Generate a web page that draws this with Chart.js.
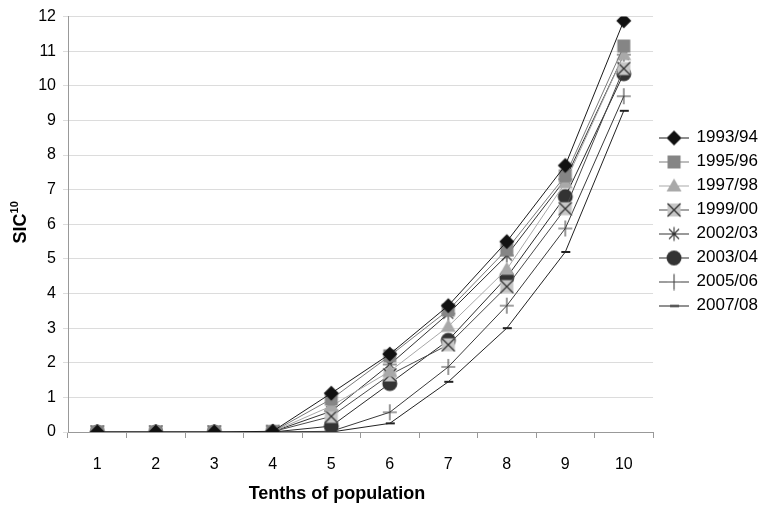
<!DOCTYPE html>
<html>
<head>
<meta charset="utf-8">
<script src="https://cdn.jsdelivr.net/npm/chart.js@4/dist/chart.umd.min.js"></script>
<style>
  html, body { margin: 0; padding: 0; background: #fff; }
  #wrap { width: 760px; height: 508px; }
</style>
</head>
<body>
<div id="wrap"><canvas id="c" width="760" height="508"></canvas></div>
<script>
// data
let tenths = ['1', '2', '3', '4', '5', '6', '7', '8', '9', '10'];
let years = ['1993/94', '1995/96', '1997/98', '1999/00', '2002/03', '2003/04', '2005/06', '2007/08'];

let sic_9394 = [0, 0, 0, 0.02, 1.12, 2.25, 3.65, 5.5, 7.7, 11.88];
let sic_9596 = [0, 0, 0, 0.01, 0.95, 2.2, 3.52, 5.27, 7.4, 11.15];
let sic_9798 = [0, 0, 0, 0.01, 0.75, 1.75, 3.05, 4.7, 7.2, 10.9];
let sic_9900 = [0, 0, 0, 0.01, 0.45, 1.65, 2.52, 4.2, 6.45, 10.5];
let sic_0203 = [0, 0, 0, 0.01, 0.6, 1.95, 3.42, 5.1, 7.3, 10.9];
let sic_0304 = [0, 0, 0, 0, 0.17, 1.4, 2.65, 4.47, 6.8, 10.35];
let sic_0506 = [0, 0, 0, 0, 0.02, 0.57, 1.88, 3.65, 5.88, 9.7];
let sic_0708 = [0, 0, 0, 0, 0, 0.25, 1.45, 3.0, 5.2, 9.28];

let yTicks = [0, 1, 2, 3, 4, 5, 6, 7, 8, 9, 10, 11, 12];

let fontFam = '"Liberation Sans", Arial, sans-serif';

// marker drawing
function paintMarker(ctx, type, cx, cy) {
    ctx.lineWidth = 1;
    if (type == 'diamond') {
        ctx.fillStyle = '#111';
        ctx.beginPath();
        ctx.moveTo(cx, cy - 7.5); ctx.lineTo(cx + 7.5, cy); ctx.lineTo(cx, cy + 7.5); ctx.lineTo(cx - 7.5, cy);
        ctx.closePath(); ctx.fill();
    } else if (type == 'square') {
        ctx.fillStyle = '#858585';
        ctx.fillRect(cx - 6.5, cy - 6.5, 13, 13);
    } else if (type == 'triangle') {
        ctx.fillStyle = '#a9a9a9';
        ctx.beginPath();
        ctx.moveTo(cx, cy - 7.5); ctx.lineTo(cx + 7.5, cy + 5.5); ctx.lineTo(cx - 7.5, cy + 5.5);
        ctx.closePath(); ctx.fill();
    } else if (type == 'xbox') {
        ctx.fillStyle = '#c6c6c6';
        ctx.fillRect(cx - 6.5, cy - 6.5, 13, 13);
        ctx.strokeStyle = '#333'; ctx.lineWidth = 1.3;
        ctx.beginPath();
        ctx.moveTo(cx - 6.5, cy - 6.5); ctx.lineTo(cx + 6.5, cy + 6.5);
        ctx.moveTo(cx + 6.5, cy - 6.5); ctx.lineTo(cx - 6.5, cy + 6.5);
        ctx.stroke();
    } else if (type == 'star') {
        ctx.strokeStyle = '#333'; ctx.lineWidth = 1.1;
        ctx.beginPath();
        ctx.moveTo(cx - 7, cy); ctx.lineTo(cx + 7, cy);
        ctx.moveTo(cx, cy - 7); ctx.lineTo(cx, cy + 7);
        ctx.moveTo(cx - 5, cy - 5); ctx.lineTo(cx + 5, cy + 5);
        ctx.moveTo(cx + 5, cy - 5); ctx.lineTo(cx - 5, cy + 5);
        ctx.stroke();
    } else if (type == 'circle') {
        ctx.fillStyle = '#333';
        ctx.beginPath(); ctx.arc(cx, cy, 7.5, 0, Math.PI * 2); ctx.fill();
    } else if (type == 'plus') {
        ctx.strokeStyle = '#444'; ctx.lineWidth = 1.1;
        ctx.beginPath();
        ctx.moveTo(cx - 7, cy); ctx.lineTo(cx + 7, cy);
        ctx.moveTo(cx, cy - 8); ctx.lineTo(cx, cy + 8);
        ctx.stroke();
    } else if (type == 'dash') {
        ctx.fillStyle = '#222';
        ctx.fillRect(cx - 4, cy - 1, 9, 2);
    }
}

function makeMarker(type) {
    let cv = document.createElement('canvas');
    cv.width = 18; cv.height = 18;
    paintMarker(cv.getContext('2d'), type, 9, 9);
    return cv;
}

function makeLegendIcon(type, lineColor) {
    let cv = document.createElement('canvas');
    cv.width = 30; cv.height = 18;
    let ctx = cv.getContext('2d');
    ctx.strokeStyle = lineColor; ctx.lineWidth = 1;
    ctx.beginPath(); ctx.moveTo(0, 9.5); ctx.lineTo(30, 9.5); ctx.stroke();
    paintMarker(ctx, type, 15, 9.5);
    return cv;
}

let markerTypes = ['diamond', 'square', 'triangle', 'xbox', 'star', 'circle', 'plus', 'dash'];
let lineColors = ['#1a1a1a', '#7a7a7a', '#a8a8a8', '#4a4a4a', '#333', '#2a2a2a', '#3a3a3a', '#222'];
let seriesValues = [sic_9394, sic_9596, sic_9798, sic_9900, sic_0203, sic_0304, sic_0506, sic_0708];

let datasets = years.map((y, i) => ({
    label: y,
    data: seriesValues[i],
    borderColor: lineColors[i],
    borderWidth: 1,
    pointStyle: makeMarker(markerTypes[i]),
    legendIcon: makeLegendIcon(markerTypes[i], lineColors[i]),
    pointRadius: 7,
    fill: false,
    tension: 0
}));

// axis titles (y title has a superscript)
const titlesPlugin = {
    id: 'axisTitles',
    afterDraw(chart) {
        let ctx = chart.ctx;
        let area = chart.chartArea;
        ctx.save();
        ctx.fillStyle = '#000';
        ctx.textBaseline = 'alphabetic';
        ctx.translate(26, (area.top + area.bottom) / 2 - 2);
        ctx.rotate(-Math.PI / 2);
        ctx.font = 'bold 18px ' + fontFam;
        let w1 = ctx.measureText('SIC').width;
        ctx.font = 'bold 11px ' + fontFam;
        let w2 = ctx.measureText('10').width;
        let x0 = -(w1 + w2) / 2;
        ctx.font = 'bold 18px ' + fontFam;
        ctx.fillText('SIC', x0, 0);
        ctx.font = 'bold 11px ' + fontFam;
        ctx.fillText('10', x0 + w1, -8);
        ctx.restore();

        ctx.save();
        ctx.fillStyle = '#000';
        ctx.font = 'bold 18px ' + fontFam;
        ctx.textAlign = 'center';
        ctx.textBaseline = 'middle';
        ctx.fillText('Tenths of population', 337, 494);
        ctx.restore();
    }
};

new Chart(document.getElementById('c'), {
    type: 'line',
    data: { labels: tenths, datasets: datasets },
    plugins: [titlesPlugin],
    options: {
        responsive: false,
        animation: false,
        layout: { padding: { top: 7, right: -8, left: 0, bottom: 0 } },
        plugins: {
            tooltip: { enabled: false },
            legend: {
                position: 'right',
                align: 'start',
                title: { display: true, text: '', font: { size: 10 }, padding: { top: 0, bottom: 103 } },
                labels: {
                    usePointStyle: true,
                    pointStyleWidth: 28,
                    padding: 7,
                    color: '#000',
                    font: { family: fontFam, size: 17 },
                    generateLabels(chart) {
                        return chart.data.datasets.map((ds, i) => ({
                            text: ds.label,
                            pointStyle: ds.legendIcon,
                            datasetIndex: i,
                            hidden: false,
                            lineWidth: 0,
                            fontColor: '#000'
                        }));
                    }
                }
            }
        },
        scales: {
            x: {
                offset: true,
                afterFit(scale) { scale.height = 76; },
                grid: { offset: true, drawOnChartArea: false, tickLength: 6, color: '#999' },
                border: { color: '#999' },
                ticks: {
                    color: '#000',
                    padding: 17,
                    font: { family: fontFam, size: 16 }
                }
            },
            y: {
                min: 0,
                max: 12,
                afterFit(scale) { scale.width = 68; },
                afterBuildTicks(scale) { scale.ticks = yTicks.map(v => ({ value: v })); },
                grid: { color: '#dcdcdc', tickLength: 5 },
                border: { color: '#999' },
                ticks: {
                    color: '#000',
                    padding: 7,
                    font: { family: fontFam, size: 16 }
                }
            }
        }
    }
});
</script>
</body>
</html>
